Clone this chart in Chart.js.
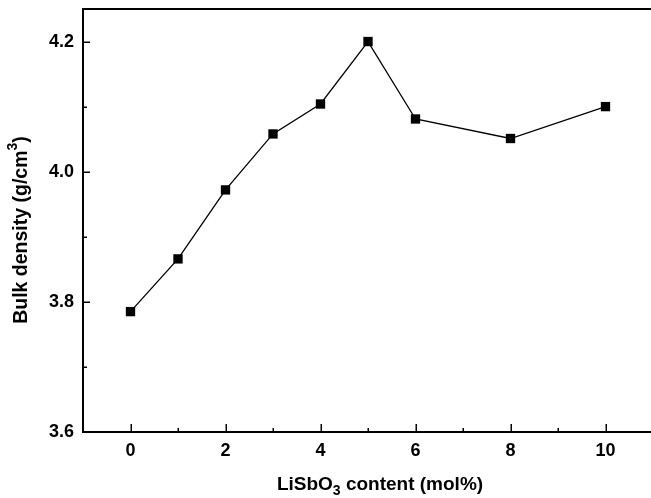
<!DOCTYPE html>
<html><head><meta charset="utf-8">
<script src="https://cdn.jsdelivr.net/npm/chart.js@4/dist/chart.umd.min.js"></script>
<style>
html,body{margin:0;padding:0;background:#fff;overflow:hidden;width:651px;height:498px}
#wrap{width:651px;height:498px;overflow:hidden;position:relative}
canvas{display:block}
</style></head><body>
<div id="wrap"><canvas id="c" width="653" height="498" style="width:653px;height:498px"></canvas></div>
<script>
const xValues = [0, 1, 2, 3, 4, 5, 6, 8, 10];
const density = [3.785, 3.866, 3.972, 4.058, 4.104, 4.200, 4.081, 4.051, 4.100];
const xMajorTicks = [0, 2, 4, 6, 8, 10];
const xMinorTicks = [1, 3, 5, 7, 9];
const yMajorTicks = [3.6, 3.8, 4.0, 4.2];
const yMinorTicks = [3.7, 3.9, 4.1];
const xTitleParts = [["LiSbO", 0], ["3", 1], [" content (mol%)", 0]];
const yTitleParts = [["Bulk density (g/cm", 0], ["3", -1], [")", 0]];

const FONT = "'Liberation Sans', Arial, Helvetica, sans-serif";

function drawParts(ctx, parts, cx, baseY, size, supDy) {
  const subSize = Math.round(size * 0.72);
  let w = 0;
  parts.forEach(([t, s]) => { ctx.font = 'bold ' + (s ? subSize : size) + 'px ' + FONT; w += ctx.measureText(t).width; });
  let x = cx - w / 2;
  parts.forEach(([t, s]) => {
    ctx.font = 'bold ' + (s ? subSize : size) + 'px ' + FONT;
    const dy = s === 1 ? 5 : (s === -1 ? supDy : 0);
    ctx.fillText(t, x, baseY + dy);
    x += ctx.measureText(t).width;
  });
}

const decorPlugin = {
  id: 'decor',
  afterDraw(chart) {
    const ctx = chart.ctx, a = chart.chartArea, xs = chart.scales.x, ys = chart.scales.y;
    ctx.save();
    ctx.strokeStyle = '#000';
    ctx.lineWidth = 1.5;
    ctx.beginPath();
    xMajorTicks.forEach(v => { const p = Math.round(xs.getPixelForValue(v)) + 0.25; ctx.moveTo(p, a.bottom); ctx.lineTo(p, a.bottom - 8); });
    xMinorTicks.forEach(v => { const p = Math.round(xs.getPixelForValue(v)) + 0.25; ctx.moveTo(p, a.bottom); ctx.lineTo(p, a.bottom - 4); });
    yMajorTicks.forEach(v => { const p = Math.round(ys.getPixelForValue(v)) + 0.25; ctx.moveTo(a.left, p); ctx.lineTo(a.left + 7, p); });
    yMinorTicks.forEach(v => { const p = Math.round(ys.getPixelForValue(v)) + 0.25; ctx.moveTo(a.left, p); ctx.lineTo(a.left + 4, p); });
    ctx.stroke();
    ctx.lineWidth = 2;
    ctx.beginPath();
    ctx.moveTo(a.left - 1, a.top); ctx.lineTo(a.right, a.top);
    ctx.stroke();
    ctx.fillStyle = '#000';
    ctx.textBaseline = 'alphabetic';
    ctx.textAlign = 'left';
    drawParts(ctx, xTitleParts, 380, 490, 19, 0);
    ctx.translate(27, 230);
    ctx.rotate(-Math.PI / 2);
    drawParts(ctx, yTitleParts, 0, 0, 19.5, -10);
    ctx.restore();
  }
};

function noPad(s) { s.paddingTop = 0; s.paddingBottom = 0; s.paddingLeft = 0; s.paddingRight = 0; }

new Chart(document.getElementById('c'), {
  type: 'line',
  data: {
    datasets: [{
      data: xValues.map((x, i) => ({ x: x, y: density[i] })),
      borderColor: '#000',
      backgroundColor: '#000',
      borderWidth: 1.3,
      pointStyle: 'rect',
      pointRadius: 6.6,
      pointBorderWidth: 0,
      pointBackgroundColor: '#000',
      tension: 0,
      fill: false
    }]
  },
  options: {
    responsive: false,
    devicePixelRatio: 1,
    animation: false,
    layout: { autoPadding: false, padding: { top: 9, right: 0, left: 0, bottom: 0 } },
    plugins: { legend: { display: false }, tooltip: { enabled: false }, title: { display: false } },
    scales: {
      x: {
        type: 'linear',
        min: -1, max: 11,
        afterFit(s) { s.height = 66; noPad(s); },
        afterBuildTicks(s) { s.ticks = xMajorTicks.map(v => ({ value: v })); },
        grid: { display: false, drawTicks: false },
        border: { display: true, color: '#000', width: 2 },
        ticks: { color: '#000', padding: 8, maxRotation: 0, autoSkip: false, font: { family: FONT, size: 18, weight: 'bold' } }
      },
      y: {
        type: 'linear',
        min: 3.6, max: 4.25,
        afterFit(s) { s.width = 83; noPad(s); },
        afterBuildTicks(s) { s.ticks = yMajorTicks.map(v => ({ value: v })); },
        grid: { display: false, drawTicks: false },
        border: { display: true, color: '#000', width: 2 },
        ticks: { color: '#000', padding: 9, autoSkip: false, font: { family: FONT, size: 18, weight: 'bold' },
          callback: v => Number(v).toFixed(1) }
      }
    }
  },
  plugins: [decorPlugin]
});
</script>
</body></html>
